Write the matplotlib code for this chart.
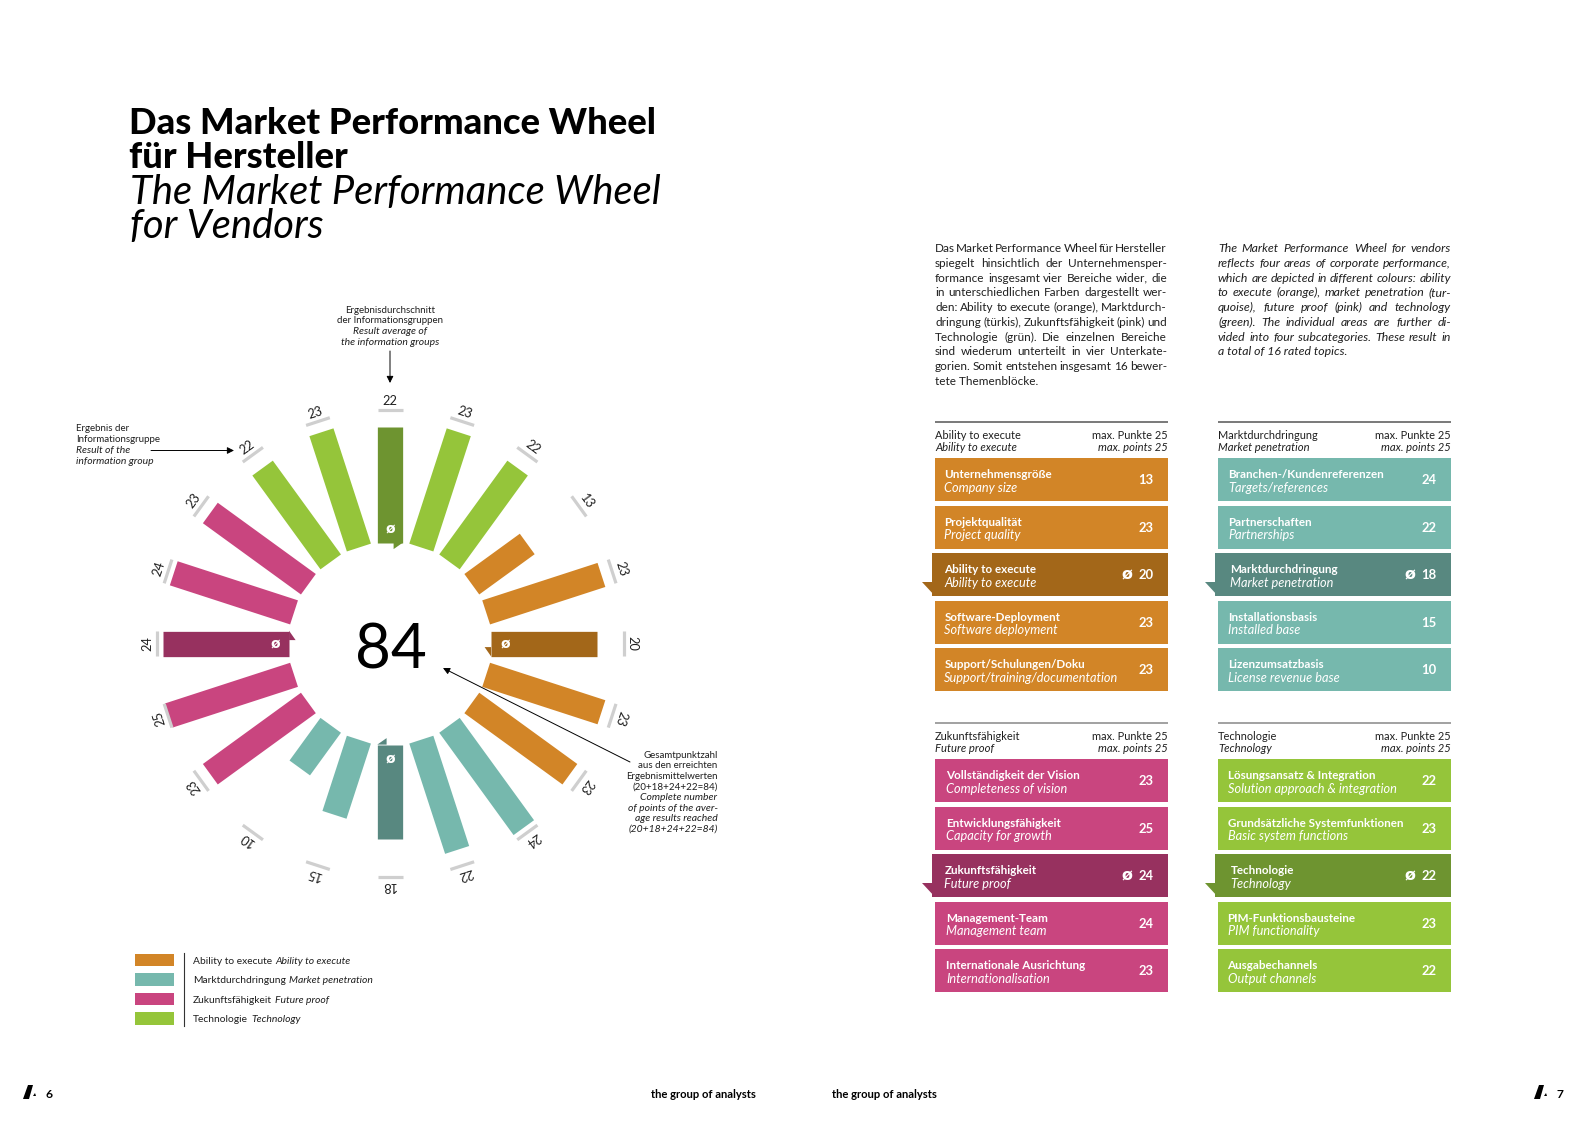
import numpy as np
import matplotlib
matplotlib.use('Agg')
import matplotlib.pyplot as plt
from matplotlib.patches import Polygon, Rectangle

plt.rcParams['font.family'] = ['Lato', 'DejaVu Sans']

# Data
group_names = ['Ability to execute', 'Marktdurchdringung', 'Zukunftsfähigkeit', 'Technologie']
group_names_en = ['Ability to execute', 'Market penetration', 'Future proof', 'Technology']
group_colors = ['#D28527', '#76B8AD', '#C9457F', '#95C53A']
group_dark = ['#A36719', '#588880', '#97315F', '#6E9430']

row_labels = [
    ['Unternehmensgröße', 'Projektqualität', 'Ability to execute', 'Software-Deployment', 'Support/Schulungen/Doku'],
    ['Branchen-/Kundenreferenzen', 'Partnerschaften', 'Marktdurchdringung', 'Installationsbasis', 'Lizenzumsatzbasis'],
    ['Vollständigkeit der Vision', 'Entwicklungsfähigkeit', 'Zukunftsfähigkeit', 'Management-Team', 'Internationale Ausrichtung'],
    ['Lösungsansatz & Integration', 'Grundsätzliche Systemfunktionen', 'Technologie', 'PIM-Funktionsbausteine', 'Ausgabechannels'],
]
row_labels_en = [
    ['Company size', 'Project quality', 'Ability to execute', 'Software deployment', 'Support/training/documentation'],
    ['Targets/references', 'Partnerships', 'Market penetration', 'Installed base', 'License revenue base'],
    ['Completeness of vision', 'Capacity for growth', 'Future proof', 'Management team', 'Internationalisation'],
    ['Solution approach & integration', 'Basic system functions', 'Technology', 'PIM functionality', 'Output channels'],
]
ability_values = [13, 23, 20, 23, 23]
market_values = [24, 22, 18, 15, 10]
future_values = [23, 25, 24, 24, 23]
tech_values = [22, 23, 22, 23, 22]
group_values = [ability_values, market_values, future_values, tech_values]
total_score = '84'

para_de = ['Das Market Performance Wheel für Hersteller', 'spiegelt hinsichtlich der Unternehmensper-',
           'formance insgesamt vier Bereiche wider, die', 'in unterschiedlichen Farben dargestellt wer-',
           'den: Ability to execute (orange), Marktdurch-', 'dringung (türkis), Zukunftsfähigkeit (pink) und',
           'Technologie (grün). Die einzelnen Bereiche', 'sind wiederum unterteilt in vier Unterkate-',
           'gorien. Somit entstehen insgesamt 16 bewer-', 'tete Themenblöcke.']
para_en = ['The Market Performance Wheel for vendors', 'reflects four areas of corporate performance,',
           'which are depicted in different colours: ability', 'to execute (orange), market penetration (tur-',
           'quoise), future proof (pink) and technology', '(green). The individual areas are further di-',
           'vided into four subcategories. These result in', 'a total of 16 rated topics.']

W, H = 1587, 1122
fig = plt.figure(figsize=(W / 100, H / 100), dpi=100, facecolor='white')

# page axes in pixels, everything that is not the wheel goes here
page = fig.add_axes([0, 0, 1, 1])
page.set_xlim(0, W)
page.set_ylim(H, 0)
page.axis('off')
page.set_zorder(2)
renderer = fig.canvas.get_renderer()
DARK = '#1f1f1f'


def txt(x, y, s, px=11.5, color=DARK, weight='normal', style='normal', ha='left', **kw):
    return page.text(x, y, s, fontsize=px * 0.72, color=color, fontweight=weight,
                     fontstyle=style, ha=ha, va='baseline', **kw)


def justified(x0, x1, y, line, style, px, last):
    if last:
        txt(x0, y, line, px=px, style=style)
        return
    words = line.split(' ')
    items = [txt(x0, y, w, px=px, style=style) for w in words]
    widths = [t.get_window_extent(renderer).width for t in items]
    gap = (x1 - x0 - sum(widths)) / (len(words) - 1)
    x = x0
    for t, w in zip(items, widths):
        t.set_x(x)
        x += w + gap


# title
txt(129, 134, 'Das Market Performance Wheel', px=36.4, color='black', weight='black')
txt(129, 167.5, 'für Hersteller', px=36.4, color='black', weight='black')
txt(130, 203.5, 'The Market Performance Wheel', px=40, color='black', style='italic')
txt(130, 237.5, 'for Vendors', px=40, color='black', style='italic')

# paragraphs
for i, line in enumerate(para_de):
    justified(935, 1167, 252 + i * 14.75, line, 'normal', 11.8, i == len(para_de) - 1)
for i, line in enumerate(para_en):
    justified(1218, 1451, 252 + i * 14.75, line, 'italic', 12.3, i == len(para_en) - 1)

# panels
col_x = [935, 1218, 935, 1218]
header_y = [422, 422, 723, 723]
text_off = [9.3, 10.5, 11.5, 9.5]
avg_off = [9.3, 12.5, 9.3, 12.5]
col_w = 232.5
row_h = 43
row_step = 47.55
for g in range(4):
    x0, yh = col_x[g], header_y[g]
    page.plot([x0, x0 + col_w], [yh, yh], color='#555555' if g < 2 else '#888888', lw=1.1, solid_capstyle='butt')
    txt(x0, yh + 17, group_names[g], px=11)
    txt(x0, yh + 28.7, group_names_en[g], px=11.2, style='italic')
    txt(x0 + col_w, yh + 17, 'max. Punkte 25', px=11, ha='right')
    txt(x0 + col_w, yh + 28.7, 'max. points 25', px=11.2, ha='right', style='italic')
    for r in range(5):
        y0 = yh + 36 + r * row_step
        avg = r == 2
        fc = group_dark[g] if avg else group_colors[g]
        page.add_patch(Rectangle((x0, y0), col_w, row_h, fc=fc, ec='none'))
        tx = x0 + (avg_off[g] if avg else text_off[g])
        if avg:
            page.add_patch(Rectangle((x0 - 3, y0), 3, row_h, fc=fc, ec='none'))
            page.add_patch(Polygon([(x0 - 13, y0 + 29), (x0 - 3, y0 + 29), (x0 - 3, y0 + row_h),
                                    (x0, y0 + row_h)], fc=fc, ec='none'))
        txt(tx, y0 + 20, row_labels[g][r], px=11.6, color='white', weight='bold')
        txt(tx, y0 + 33.5, row_labels_en[g][r], px=12.8, color='white', style='italic')
        txt(x0 + 211, y0 + 26, str(group_values[g][r]), px=13, color='white', weight='bold', ha='center')
        if avg:
            page.text(x0 + 192, y0 + 26, 'ø', fontsize=11.5, color='white', fontweight='bold',
                      family='DejaVu Sans', ha='center', va='baseline')

# wheel
cx, cy = 390.1, 643.6
px_per_point = 5.27
r_inner = 101.0
r_max = 30
R = r_inner + r_max * px_per_point
wheel = fig.add_axes([(cx - R) / W, 1 - (cy + R) / H, 2 * R / W, 2 * R / H], projection='polar')
wheel.set_theta_zero_location('N')
wheel.set_theta_direction(-1)
wheel.set_rorigin(-r_inner / px_per_point)
wheel.set_rlim(0, r_max)
wheel.axis('off')
wheel.patch.set_alpha(0)

bar_lw = 25.3 * 0.72
tick_half = np.arctan(12.5 / 234)
start_angle = 54
step = 18
k = 0
for g in range(4):
    for r in range(5):
        v = group_values[g][r]
        deg = start_angle + k * step
        th = np.deg2rad(deg)
        avg = r == 2
        wheel.plot([th, th], [0, v], color=group_dark[g] if avg else group_colors[g], lw=bar_lw,
                   solid_capstyle='butt', clip_on=False)
        wheel.plot([th - tick_half, th + tick_half], [25.2, 25.2], color='#CFCFCF', lw=2.3,
                   solid_capstyle='butt', clip_on=False)
        wheel.text(th, 26.9, str(v), fontsize=9.2, color=DARK, ha='center', va='center',
                   rotation=-deg, rotation_mode='anchor', clip_on=False)
        if avg:
            # small fold at the inner end and the average sign
            t = np.array([3.5, 12.8, 3.5])
            rr = np.array([r_inner, r_inner, r_inner - 6.5])
            wheel.fill(th + np.arctan(t / rr), (np.hypot(t, rr) - r_inner) / px_per_point,
                       color=group_dark[g], lw=0, clip_on=False)
            wheel.text(th, 2.6, 'ø', fontsize=10, color='white', fontweight='bold', family='DejaVu Sans',
                       ha='center', va='center', clip_on=False)
        k += 1

txt(390.5, 668, total_score, px=62, color='black', ha='center')

# annotations
arrow = dict(arrowstyle='-|>', color='black', lw=0.7, shrinkA=0, shrinkB=0, mutation_scale=10)


def note_px(style):
    return 10.4 if style == 'italic' else 9.8


for y, s, st in [(313, 'Ergebnisdurchschnitt', 'normal'), (323, 'der Informationsgruppen', 'normal'),
                 (334, 'Result average of', 'italic'), (344.5, 'the information groups', 'italic')]:
    txt(390, y, s, px=note_px(st), ha='center', style=st)
page.annotate('', xy=(390, 383), xytext=(390, 351), arrowprops=arrow)

for y, s, st in [(431, 'Ergebnis der', 'normal'), (442, 'Informationsgruppe', 'normal'),
                 (453, 'Result of the', 'italic'), (463.5, 'information group', 'italic')]:
    txt(76.5, y, s, px=note_px(st), style=st)
page.annotate('', xy=(234, 450.5), xytext=(151, 450.5), arrowprops=arrow)

right_note = [('Gesamtpunktzahl', 'normal'), ('aus den erreichten', 'normal'), ('Ergebnismittelwerten', 'normal'),
              ('(20+18+24+22=84)', 'normal'), ('Complete number', 'italic'), ('of points of the aver-', 'italic'),
              ('age results reached', 'italic'), ('(20+18+24+22=84)', 'italic')]
for i, (s, st) in enumerate(right_note):
    txt(717.5, 757.5 + i * 10.65, s, px=note_px(st), ha='right', style=st)
page.annotate('', xy=(443, 668), xytext=(630, 762), arrowprops=arrow)

# legend
legend_y = [960.4, 979.5, 999, 1018.5]
for y, c, de, en in zip(legend_y, group_colors, group_names, group_names_en):
    page.add_patch(Rectangle((135, y - 6.5), 38.5, 12.5, fc=c, ec='none'))
    t = txt(193, y + 3.5, de, px=10.2)
    wd = t.get_window_extent(renderer).width
    txt(193 + wd + 3, y + 3.5, en, px=10.4, style='italic')
page.plot([183.5, 183.5], [953, 1026], color='#333333', lw=0.8)

# footer
footer_y = 1098
for lx, num, nx in [(23, '6', 49), (1534, '7', 1560)]:
    page.add_patch(Polygon([(lx, 1099), (lx + 6, 1099), (lx + 10, 1085), (lx + 5, 1085)], fc='black', ec='none'))
    page.add_patch(Polygon([(lx + 10, 1096), (lx + 13, 1096), (lx + 12, 1093)], fc='black', ec='none'))
    txt(nx, footer_y, num, px=12, color='black', weight='bold', ha='center')
txt(756, footer_y, 'the group of analysts', px=11.3, color='black', weight='bold', ha='right')
txt(831.5, footer_y, 'the group of analysts', px=11.3, color='black', weight='bold')

fig.savefig('out.png', dpi=100, facecolor='white')
